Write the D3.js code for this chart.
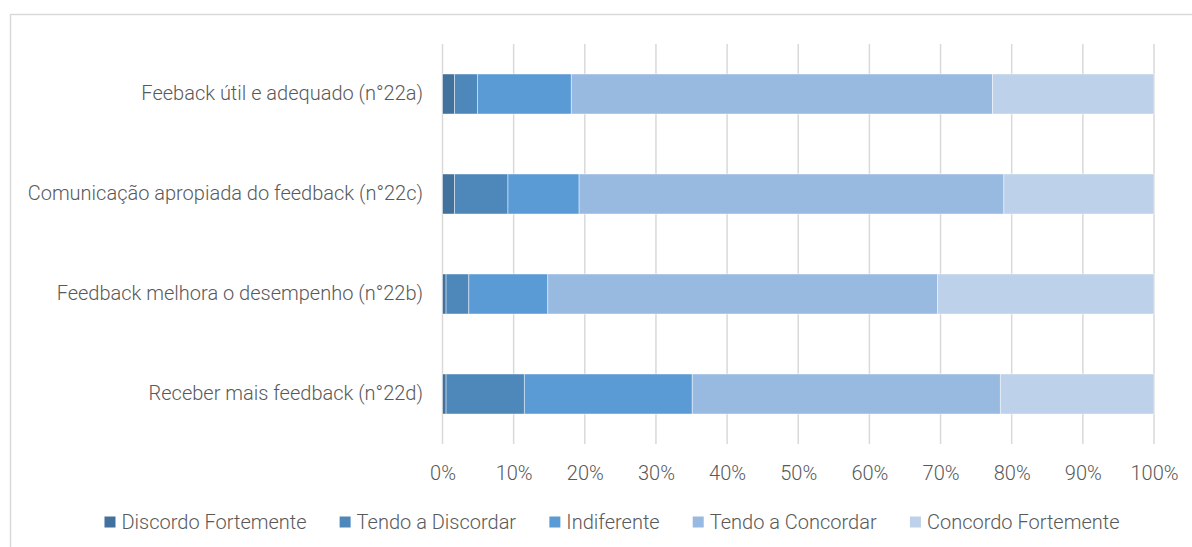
<!DOCTYPE html>
<html>
<head>
<meta charset="utf-8">
<script src="https://cdn.jsdelivr.net/npm/d3@7"></script>
<style>
  body { margin: 0; background: #fff; }
  svg { display: block; font-family: Roboto, sans-serif; font-weight: 300; }
</style>
</head>
<body>
<svg id="chart" width="1192" height="547"></svg>
<script>
var categories = [
  "Feeback útil e adequado (n°22a)",
  "Comunicação apropiada do feedback (n°22c)",
  "Feedback melhora o desempenho (n°22b)",
  "Receber mais feedback (n°22d)"
];
var seriesNames = ["Discordo Fortemente", "Tendo a Discordar", "Indiferente", "Tendo a Concordar", "Concordo Fortemente"];
var seriesColors = ["#41719c", "#4e88bb", "#5b9bd5", "#98b9e0", "#bdd1ea"];

// percentagens, por categoria
var discordoFortemente = [1.7, 1.7, 0.5, 0.5];
var tendoDiscordar     = [3.2, 7.5, 3.2, 11.0];
var indiferente        = [13.2, 10.0, 11.1, 23.6];
var tendoConcordar     = [59.2, 59.7, 54.8, 43.3];
var concordoFortemente = [22.7, 21.1, 30.4, 21.6];

var xTicks = [0, 10, 20, 30, 40, 50, 60, 70, 80, 90, 100];

var svg = d3.select("#chart");
var textColor = "#595959";
var gridColor = "#d9d9d9";
var fontSize = "20px";

var margin = {top: 44, left: 442.5, right: 38, bottom: 103};
var width = 1192 - margin.left - margin.right;
var height = 547 - margin.top - margin.bottom;

// moldura do gráfico
svg.append("rect")
  .attr("x", 10.5).attr("y", 14.5)
  .attr("width", 1200).attr("height", 600)
  .attr("fill", "none")
  .attr("stroke", gridColor)
  .attr("stroke-width", 1.5);

var g = svg.append("g").attr("transform", "translate(" + margin.left + "," + margin.top + ")");

var x = d3.scaleLinear().domain([0, 100]).range([0, width]);
var y = d3.scaleBand().domain(categories).range([0, height]).paddingInner(0.6).paddingOuter(0.3);

// linhas de grade
g.selectAll(".grid")
  .data(xTicks)
  .enter().append("line")
    .attr("class", "grid")
    .attr("x1", function(d){ return x(d); })
    .attr("x2", function(d){ return x(d); })
    .attr("y1", 0)
    .attr("y2", height)
    .attr("stroke", gridColor)
    .attr("stroke-width", 1.5);

var table = categories.map(function(c, i){
  return {
    category: c,
    "Discordo Fortemente": discordoFortemente[i],
    "Tendo a Discordar": tendoDiscordar[i],
    "Indiferente": indiferente[i],
    "Tendo a Concordar": tendoConcordar[i],
    "Concordo Fortemente": concordoFortemente[i]
  };
});

var stacked = d3.stack().keys(seriesNames)(table);

var layer = g.selectAll(".serie")
  .data(stacked)
  .enter().append("g")
    .attr("class", "serie")
    .attr("fill", function(d, i){ return seriesColors[i]; });

layer.selectAll("rect")
  .data(function(d){ return d; })
  .enter().append("rect")
    .attr("x", function(d){ return x(d[0]); })
    .attr("width", function(d){ return x(d[1]) - x(d[0]); })
    .attr("y", function(d){ return y(d.data.category); })
    .attr("height", y.bandwidth())
    .attr("stroke", "#fff")
    .attr("stroke-opacity", 0.6)
    .attr("stroke-width", 0.75);

// eixo X
var xAxis = d3.axisBottom(x)
  .tickValues(xTicks)
  .tickSize(0)
  .tickPadding(22)
  .tickFormat(function(d){ return d + "%"; });

var gx = g.append("g")
  .attr("transform", "translate(0," + height + ")")
  .call(xAxis);
gx.select(".domain").remove();
gx.selectAll("text")
  .attr("fill", textColor)
  .style("font-size", fontSize)
  .style("font-family", "Roboto, sans-serif")
  .style("font-weight", 300);

// eixo Y
var yAxis = d3.axisLeft(y).tickSize(0).tickPadding(19.5);
var gy = g.append("g").call(yAxis);
gy.select(".domain").remove();
gy.selectAll("text")
  .attr("fill", textColor)
  .style("font-size", fontSize)
  .style("font-family", "Roboto, sans-serif")
  .style("font-weight", 300);

// legenda
var legend = svg.append("g").attr("transform", "translate(0,522)");
var items = legend.selectAll(".item")
  .data(seriesNames)
  .enter().append("g")
    .attr("class", "item");

items.append("rect")
  .attr("x", 0).attr("y", -5.5)
  .attr("width", 11).attr("height", 11)
  .attr("fill", function(d, i){ return seriesColors[i]; });

items.append("text")
  .attr("x", 17)
  .attr("dy", "0.35em")
  .attr("fill", textColor)
  .style("font-size", fontSize)
  .text(function(d){ return d; });

var gap = 33;
var widths = [];
items.each(function(){ widths.push(this.getBBox().width); });
var total = d3.sum(widths) + gap * (widths.length - 1);
var cursor = 612 - total / 2;
items.attr("transform", function(d, i){
  var pos = cursor;
  cursor += widths[i] + gap;
  return "translate(" + pos + ",0)";
});
</script>
</body>
</html>
